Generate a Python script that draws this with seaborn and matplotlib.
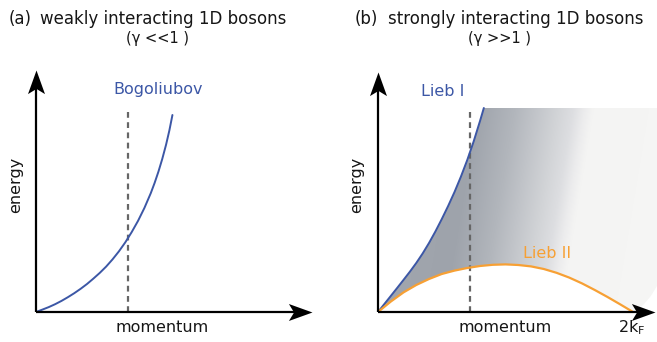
import numpy as np
import matplotlib
matplotlib.use("Agg")
import matplotlib.pyplot as plt
from matplotlib.colors import LinearSegmentedColormap, Normalize
from matplotlib.path import Path
import seaborn as sns

# ---------------- data ----------------
# (a) Bogoliubov dispersion, momentum / energy in arbitrary units
bog_k = [0, 0.025, 0.05, 0.075, 0.1, 0.125, 0.15, 0.175, 0.2, 0.225, 0.25, 0.275,
         0.3, 0.325, 0.35, 0.375, 0.4, 0.425, 0.45, 0.465, 0.48, 0.495, 0.51,
         0.523, 0.535]
bog_E = [0, 0.012, 0.0245, 0.039, 0.0555, 0.074, 0.094, 0.116, 0.14, 0.167,
         0.1955, 0.227, 0.263, 0.303, 0.348, 0.399, 0.4555, 0.52, 0.594, 0.645,
         0.7015, 0.765, 0.8365, 0.908, 0.985]

# (b) Lieb I and Lieb II branches (momentum in units of 2k_F)
lieb1_k = [0, 0.025, 0.05, 0.075, 0.1, 0.125, 0.15, 0.175, 0.2, 0.225, 0.25,
           0.275, 0.3, 0.325, 0.35, 0.375, 0.4, 0.415]
lieb1_E = [0, 0.04, 0.08, 0.12, 0.1605, 0.2015, 0.245, 0.2925, 0.345, 0.4025,
           0.4645, 0.53, 0.60, 0.6765, 0.76, 0.8525, 0.955, 1.02]
lieb2_k = [0, 0.05, 0.1, 0.15, 0.2, 0.25, 0.3, 0.35, 0.4, 0.45, 0.5, 0.55,
           0.6, 0.65, 0.7, 0.75, 0.8, 0.85, 0.9, 0.95, 1.0]
lieb2_E = [0, 0.052, 0.098, 0.135, 0.165, 0.19, 0.207, 0.22, 0.23, 0.236, 0.238,
           0.235, 0.228, 0.215, 0.196, 0.172, 0.143, 0.11, 0.075, 0.038, 0]

# shaded continuum extent (top, right edge, rounded lower-right corner)
shade_top = 1.02
shade_right = 1.094
corner_k = [1.094, 1.07, 1.04, 1.0]
corner_E = [0.13, 0.08, 0.035, 0.0]

# dashed reference momentum
cutoff_k = 0.36
cutoff_top = 1.0

# texts
title_a_tag, title_a = "(a)", "weakly interacting 1D bosons"
title_b_tag, title_b = "(b)", "strongly interacting 1D bosons"
sub_a, sub_b = "(γ <<1 )", "(γ >>1 )"
xlab, ylab = "momentum", "energy"

# ---------------- style ----------------
sns.set_theme(style="white")
plt.rcParams["font.family"] = ["DejaVu Sans"]
plt.rcParams["text.color"] = "#161616"

BLUE = "#3c57a6"
ORANGE = "#f7a034"
DASH = "#666666"

W, H = 657, 342
fig = plt.figure(figsize=(W / 100, H / 100), dpi=100)
fig.patch.set_facecolor("white")

XMAX, YMAX = 1.094, 1.26

# stealth-like arrow head markers (marker units, tip at the data point)
HEAD_X = Path([(0, 0), (-1, 0.36), (-0.78, 0), (-1, -0.36), (0, 0)],
              [Path.MOVETO, Path.LINETO, Path.LINETO, Path.LINETO, Path.CLOSEPOLY])
HEAD_Y = Path([(0, 0), (0.36, -1), (0, -0.78), (-0.36, -1), (0, 0)],
              [Path.MOVETO, Path.LINETO, Path.LINETO, Path.LINETO, Path.CLOSEPOLY])


def make_ax(left_px):
    ax = fig.add_axes([left_px / W, 30 / H, 279 / W, 252 / H])
    ax.set_xlim(0, XMAX)
    ax.set_ylim(0, YMAX)
    ax.set_axis_off()
    return ax


def draw_axes_arrows(ax, xtip, ytip):
    ax.plot([0, xtip - 0.04], [0, 0], color="black", lw=1.6, clip_on=False,
            zorder=6, solid_capstyle="butt")
    ax.plot([0, 0], [0, ytip - 0.05], color="black", lw=1.6, clip_on=False,
            zorder=6, solid_capstyle="butt")
    ax.plot([xtip], [0], marker=HEAD_X, ms=34, color="black", mew=0,
            clip_on=False, zorder=7)
    ax.plot([0], [ytip], marker=HEAD_Y, ms=34, color="black", mew=0,
            clip_on=False, zorder=7)


def ftext(x, y, s, **kw):
    fig.text(x / W, 1 - y / H, s, **kw)


# ---------------- panel (a) ----------------
axa = make_ax(36)
axa.plot([cutoff_k, cutoff_k], [0, cutoff_top], ls=(0, (2.6, 2)), color=DASH,
         lw=1.6, zorder=2)
sns.lineplot(x=bog_k, y=bog_E, ax=axa, color=BLUE, lw=1.4, sort=False,
             estimator=None, zorder=4)
draw_axes_arrows(axa, 1.082, 1.21)

# ---------------- panel (b) ----------------
axb = make_ax(378)

poly_k = list(lieb1_k) + [shade_right] + list(corner_k) + list(lieb2_k[::-1])
poly_E = list(lieb1_E) + [shade_top] + list(corner_E) + list(lieb2_E[::-1])
poly = axb.fill(poly_k, poly_E, facecolor="none", edgecolor="none")[0]

SMAX = 1.2
stops = [(0.0, "#a2a7af"), (0.3, "#9ea3ab"), (0.45, "#b2b6bc"),
         (0.525, "#c0c3c8"), (0.62, "#d2d4d7"), (0.68, "#dddee1"),
         (0.725, "#ececed"), (0.76, "#f4f4f3"), (SMAX, "#f6f6f5")]
cmap = LinearSegmentedColormap.from_list("cont", [(s / SMAX, c) for s, c in stops])
gk, gE = np.meshgrid(np.linspace(0, XMAX, 500), np.linspace(0, YMAX, 400))
S = gk - 0.13 * (gE - 0.35)
im = axb.imshow(S, extent=(0, XMAX, 0, YMAX), origin="lower", cmap=cmap,
                norm=Normalize(0, SMAX), aspect="auto", zorder=1,
                interpolation="bilinear")
im.set_clip_path(poly)
axb.set_xlim(0, XMAX)
axb.set_ylim(0, YMAX)

axb.plot([cutoff_k, cutoff_k], [0, cutoff_top], ls=(0, (2.6, 2)), color=DASH,
         lw=1.6, zorder=3)
sns.lineplot(x=lieb1_k, y=lieb1_E, ax=axb, color=BLUE, lw=1.4, sort=False,
             estimator=None, zorder=4)
sns.lineplot(x=lieb2_k, y=lieb2_E, ax=axb, color=ORANGE, lw=1.6, sort=False,
             estimator=None, zorder=4)
draw_axes_arrows(axb, 1.086, 1.2)

# ---------------- texts ----------------
TS = 12
LS = 11.5
ftext(9, 18.5, title_a_tag, fontsize=TS, ha="left", va="center")
ftext(40, 18.5, title_a, fontsize=TS, ha="left", va="center")
ftext(158, 39, sub_a, fontsize=10.5, ha="center", va="center")
ftext(355, 18.5, title_b_tag, fontsize=TS, ha="left", va="center")
ftext(388, 18.5, title_b, fontsize=TS, ha="left", va="center")
ftext(499, 39, sub_b, fontsize=10.5, ha="center", va="center")

ftext(16, 185, ylab, fontsize=LS, rotation=90, ha="center", va="center")
ftext(357, 185, ylab, fontsize=LS, rotation=90, ha="center", va="center")
ftext(162, 327, xlab, fontsize=LS, ha="center", va="center")
ftext(505, 327, xlab, fontsize=LS, ha="center", va="center")
ftext(632, 328, "2k$_\\mathregular{F}$", fontsize=LS, ha="center", va="center")

ftext(158, 90, "Bogoliubov", fontsize=LS, color=BLUE, ha="center", va="center")
ftext(443, 92, "Lieb I", fontsize=LS, color=BLUE, ha="center", va="center")
ftext(547, 253, "Lieb II", fontsize=LS, color=ORANGE, ha="center", va="center")

fig.savefig("out.png", dpi=100, facecolor="white")
